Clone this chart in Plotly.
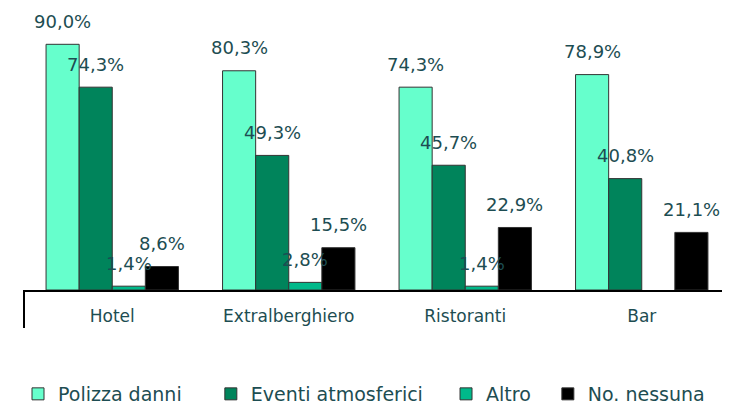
import plotly.graph_objects as go

# data
categorie = ["Hotel", "Extralberghiero", "Ristoranti", "Bar"]
polizza_danni = [90.0, 80.3, 74.3, 78.9]
eventi_atmosferici = [74.3, 49.3, 45.7, 40.8]
altro = [1.4, 2.8, 1.4, None]
no_nessuna = [8.6, 15.5, 22.9, 21.1]

NBSP = "\u00a0"
serie = [
    ("Polizza danni" + NBSP * 4, polizza_danni, "#66FFCC"),
    ("Eventi atmosferici" + NBSP * 3, eventi_atmosferici, "#00845B"),
    ("Altro" + NBSP * 2, altro, "#00B98A"),
    ("No. nessuna", no_nessuna, "#000000"),
]

FONT = "DejaVu Sans"
TEXT_COL = "#1d4d52"
# page body has an 8px margin, so the figure is a bit smaller than the window
W, H = 722, 398
M = dict(l=16, r=0, t=9, b=116, autoexpand=False)
BARGAP = 0.25

fig = go.Figure()
for nome, valori, colore in serie:
    fig.add_trace(go.Bar(
        x=categorie, y=valori, name=nome,
        marker=dict(color=colore, line=dict(color="#333333", width=1)),
    ))

# value labels above each bar
plot_w = W - M["l"] - M["r"]
cat_w = plot_w / len(categorie)
bar_w = cat_w * (1 - BARGAP) / len(serie)
for i, (nome, valori, colore) in enumerate(serie):
    shift = (i - (len(serie) - 1) / 2) * bar_w
    for cat, v in zip(categorie, valori):
        if v is None:
            continue
        fig.add_annotation(
            x=cat, y=v, xref="x", yref="y", xshift=shift, yshift=23,
            text=f"{v:.1f}%".replace(".", ","), showarrow=False,
            font=dict(family=FONT, size=18, color=TEXT_COL),
        )

# left divider line below the axis
fig.add_shape(type="line", xref="paper", yref="paper",
              x0=0, x1=0, y0=0, y1=-38 / (H - M["t"] - M["b"]),
              line=dict(color="black", width=2))

fig.update_layout(
    width=W, height=H, margin=M,
    barmode="group", bargap=BARGAP, bargroupgap=0,
    plot_bgcolor="white", paper_bgcolor="white",
    font=dict(family=FONT, color=TEXT_COL),
    legend=dict(orientation="h", xref="container", yref="container",
                x=10 / W, xanchor="left", y=12 / H, yanchor="middle",
                font=dict(family=FONT, size=19, color=TEXT_COL),
                itemclick=False),
)
fig.update_xaxes(showline=True, linecolor="black", linewidth=2, ticks="",
                 automargin=False,
                 tickfont=dict(family=FONT, size=17, color=TEXT_COL),
                 ticklabelstandoff=10)
fig.update_yaxes(range=[0, 100], visible=False, showgrid=False)

fig.write_html("out.html")
